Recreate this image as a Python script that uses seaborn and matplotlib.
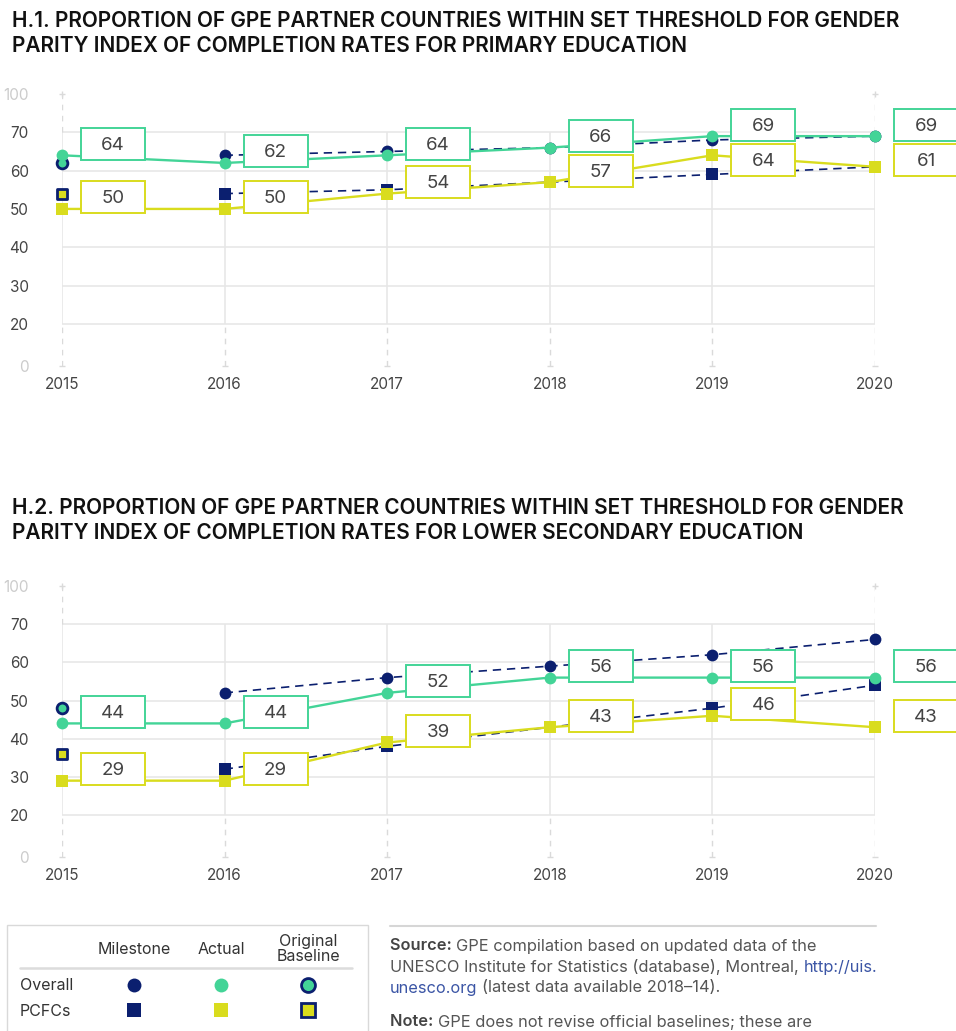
import numpy as np
import matplotlib
matplotlib.use("Agg")
import matplotlib.pyplot as plt
import seaborn as sns
from matplotlib.path import Path
from matplotlib.lines import Line2D
from matplotlib.patches import Rectangle
from matplotlib.text import Annotation

# --- DADOS ---
years = [2015, 2016, 2017, 2018, 2019, 2020]
milestone_years = [2016, 2017, 2018, 2019, 2020]
y_ticks = [0, 20, 30, 40, 50, 60, 70, 100]

# H.1 primario
h1_overall_actual = [64, 62, 64, 66, 69, 69]
h1_overall_milestone = [64, 65, 66, 68, 69]
h1_overall_baseline = [62]
h1_pcfc_actual = [50, 50, 54, 57, 64, 61]
h1_pcfc_milestone = [54, 55, 57, 59, 61]
h1_pcfc_baseline = [54]

# H.2 secundario inferior
h2_overall_actual = [44, 44, 52, 56, 56, 56]
h2_overall_milestone = [52, 56, 59, 62, 66]
h2_overall_baseline = [48]
h2_pcfc_actual = [29, 29, 39, 43, 46, 43]
h2_pcfc_milestone = [32, 38, 43, 48, 54]
h2_pcfc_baseline = [36]

title_h1 = ("H.1. PROPORTION OF GPE PARTNER COUNTRIES WITHIN SET THRESHOLD FOR GENDER\n"
            "PARITY INDEX OF COMPLETION RATES FOR PRIMARY EDUCATION")
title_h2 = ("H.2. PROPORTION OF GPE PARTNER COUNTRIES WITHIN SET THRESHOLD FOR GENDER\n"
            "PARITY INDEX OF COMPLETION RATES FOR LOWER SECONDARY EDUCATION")

# --- ESTILO ---
NAVY = "#0b1f6f"
GREEN = "#43d497"
YELLOW = "#d9dc1e"
GRID = "#e6e6e6"
GRID_DASH = "#dadada"
TXT = "#444444"

sns.set_theme(style="white")
plt.rcParams["font.family"] = ["Inter", "DejaVu Sans"]

W, H = 956, 1031
fig = plt.figure(figsize=(W / 100, H / 100), dpi=100)


def fx(px):
    return px / W


def fy(py):
    return 1 - py / H


# eixo y quebrado: 0-20 e 70-100 comprimidos
BRK = [-100, 0, 20, 70, 100, 200]
POS = [-100, 0, 11, 61, 71, 171]


def fwd(v):
    return np.interp(v, BRK, POS)


def inv(p):
    return np.interp(p, POS, BRK)


def label_box(x0, y0, width, height, mutation_size):
    cx = x0 + width / 2
    cy = y0 + height / 2 + 0.08 * mutation_size
    bw, bh = 64, 32
    return Path([(cx - bw / 2, cy - bh / 2), (cx + bw / 2, cy - bh / 2),
                 (cx + bw / 2, cy + bh / 2), (cx - bw / 2, cy + bh / 2),
                 (cx - bw / 2, cy - bh / 2)], closed=True)


def draw_panel(ax, ov_act, ov_ms, ov_base, pc_act, pc_ms, pc_base):
    ax.set_yscale("function", functions=(fwd, inv))
    ax.set_xlim(2015, 2020)
    ax.set_ylim(0, 100)
    for s in ax.spines.values():
        s.set_visible(False)

    # grade
    ax.hlines(range(20, 71, 10), 2015, 2020, color=GRID, lw=1.1, zorder=0)
    ax.vlines(years, 20, 70, color=GRID, lw=1.1, zorder=0)
    ax.vlines(years, 0, 20, color=GRID_DASH, lw=1.0, ls=(0, (4, 4)), zorder=0)
    ax.vlines([2015, 2020], 70, 100, color=GRID_DASH, lw=1.0, ls=(0, (4, 4)), zorder=0)
    ax.plot(years, [0] * len(years), ls="none", marker="_", ms=5, mew=1.0,
            color=GRID_DASH, clip_on=False, zorder=0)
    ax.plot([2015, 2020], [100, 100], ls="none", marker="+", ms=5, mew=1.0,
            color=GRID_DASH, clip_on=False, zorder=0)

    # metas (tracejado)
    for vals, mk in [(ov_ms, "o"), (pc_ms, "s")]:
        sns.lineplot(x=milestone_years, y=vals, ax=ax, color=NAVY, lw=1.2,
                     ls=(0, (5, 3.5)), marker=mk, ms=8.5, mec=NAVY, mew=0,
                     zorder=3, clip_on=False)

    # linha de base original
    sns.scatterplot(x=[2015], y=ov_base, ax=ax, color=GREEN, edgecolor=NAVY,
                    linewidth=2, s=60, marker="o", zorder=4, clip_on=False)
    sns.scatterplot(x=[2015], y=pc_base, ax=ax, color=YELLOW, edgecolor=NAVY,
                    linewidth=2, s=60, marker="s", zorder=4, clip_on=False)

    # valores reais
    sns.lineplot(x=years, y=ov_act, ax=ax, color=GREEN, lw=1.7, marker="o",
                 ms=8.5, mec=GREEN, mew=0, zorder=5, clip_on=False)
    sns.lineplot(x=years, y=pc_act, ax=ax, color=YELLOW, lw=1.7, marker="s",
                 ms=8.5, mec=YELLOW, mew=0, zorder=5, clip_on=False)

    # rótulos
    for yr, g, yv in zip(years, ov_act, pc_act):
        gy = ax.transData.transform((yr, g))[1] + 10
        yy = ax.transData.transform((yr, yv))[1] + 10
        yy = min(yy, gy - 35)
        y_off = yy - ax.transData.transform((yr, yv))[1]
        for v, col, dy in [(g, GREEN, 10), (yv, YELLOW, y_off)]:
            ax.annotate(str(v), xy=(yr, v), xytext=(51, dy),
                        textcoords="offset pixels", ha="center", va="center",
                        fontsize=13.5, color=TXT, zorder=6, annotation_clip=False,
                        bbox=dict(boxstyle=label_box, fc="white", ec=col, lw=1.4))

    ax.set_xticks(years)
    ax.set_xticklabels([str(y) for y in years])
    ax.set_yticks(y_ticks)
    ax.set_yticklabels([str(t) for t in y_ticks])
    ax.tick_params(axis="x", length=0, pad=8, labelsize=11, labelcolor=TXT)
    ax.tick_params(axis="y", length=0, pad=24, labelsize=11, labelcolor=TXT)
    for lab, t in zip(ax.get_yticklabels(), y_ticks):
        if t in (0, 100):
            lab.set_color("#cccccc")
    ax.set_xlabel("")
    ax.set_ylabel("")
    ax.grid(False)


ax1 = fig.add_axes([fx(62), fy(366), fx(875 - 62), (366 - 94) / H])
draw_panel(ax1, h1_overall_actual, h1_overall_milestone, h1_overall_baseline,
           h1_pcfc_actual, h1_pcfc_milestone, h1_pcfc_baseline)

ax2 = fig.add_axes([fx(62), fy(857), fx(875 - 62), (857 - 586) / H])
draw_panel(ax2, h2_overall_actual, h2_overall_milestone, h2_overall_baseline,
           h2_pcfc_actual, h2_pcfc_milestone, h2_pcfc_baseline)

# títulos
fig.text(fx(12), fy(33.5), title_h1, ha="left", va="center", fontsize=15,
         fontweight="semibold", color="#111111", linespacing=1.3)
fig.text(fx(12), fy(520.5), title_h2, ha="left", va="center", fontsize=15,
         fontweight="semibold", color="#111111", linespacing=1.3)

# --- LEGENDA ---
fig.add_artist(Rectangle((fx(7), fy(1045)), fx(368 - 7), (1045 - 925) / H,
                         transform=fig.transFigure, fc="none", ec="#d9d9d9", lw=1))
fig.add_artist(Line2D([fx(20), fx(352)], [fy(968), fy(968)],
                      transform=fig.transFigure, color="#dcdcdc", lw=1.8))
for txt, x in [("Milestone", 134), ("Actual", 221), ("Original\nBaseline", 308)]:
    fig.text(fx(x), fy(949), txt, ha="center", va="center", fontsize=11.5,
             color="#333333", linespacing=1.0)
fig.text(fx(20), fy(986), "Overall", ha="left", va="center", fontsize=11.5, color="#333333")
fig.text(fx(20), fy(1011), "PCFCs", ha="left", va="center", fontsize=11.5, color="#333333")

legend_marks = [
    (134, 985, "o", NAVY, NAVY), (221, 985, "o", GREEN, GREEN), (308, 985, "o", GREEN, NAVY),
    (134, 1010, "s", NAVY, NAVY), (221, 1010, "s", YELLOW, YELLOW), (308, 1010, "s", YELLOW, NAVY),
]
for x, y, mk, fc, ec in legend_marks:
    fig.add_artist(Line2D([fx(x)], [fy(y)], transform=fig.transFigure, marker=mk,
                          ms=10, mfc=fc, mec=ec, mew=2 if fc != ec else 0, ls="none"))

# --- FONTE / NOTA ---
fig.add_artist(Line2D([fx(390), fx(876)], [fy(926), fy(926)],
                      transform=fig.transFigure, color="#d6d6d6", lw=1.5))

LINK = "#3b55a5"
BODY = "#555555"
note_lines = [
    (946, [("Source: ", "semibold", TXT), ("GPE compilation based on updated data of the", "normal", BODY)]),
    (967, [("UNESCO Institute for Statistics (database), Montreal, ", "normal", BODY),
           ("http://uis.", "normal", LINK)]),
    (988, [("unesco.org", "normal", LINK), ("(latest data available 2018\u201314).", "normal", BODY)]),
    (1022, [("Note: ", "semibold", TXT), ("GPE does not revise official baselines; these are", "normal", BODY)]),
]
for py, parts in note_lines:
    prev = None
    for s, wt, col in parts:
        if prev is None:
            prev = fig.text(fx(390), fy(py), s, ha="left", va="center",
                            fontsize=11.8, fontweight=wt, color=col)
        else:
            gap = 4 if not s.startswith("(") else 5
            a = Annotation(s, xy=(1, 0), xycoords=prev, xytext=(gap if s.startswith("(") else 0, 0),
                           textcoords="offset pixels", ha="left", va="bottom",
                           fontsize=11.8, fontweight=wt, color=col)
            fig.add_artist(a)
            prev = a

fig.savefig("out.png", dpi=100)
